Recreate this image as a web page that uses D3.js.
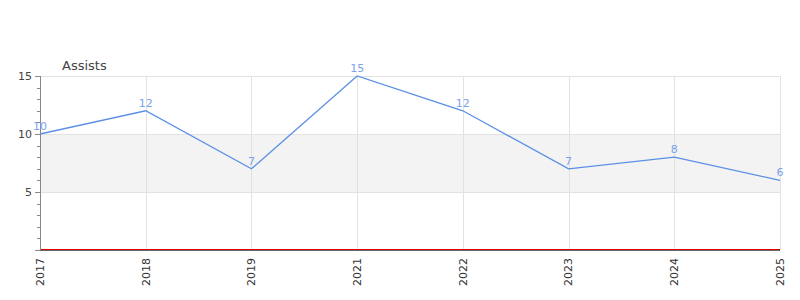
<!DOCTYPE html>
<html>
<head>
<meta charset="utf-8">
<script src="https://cdn.jsdelivr.net/npm/d3@7"></script>
<style>
  body { margin: 0; background: #fff; }
  svg { display: block; font-family: "DejaVu Sans", sans-serif; }
</style>
</head>
<body>
<svg width="800" height="300"></svg>
<script>
const years = ['2017', '2018', '2019', '2021', '2022', '2023', '2024', '2025'];
const assists = [10, 12, 7, 15, 12, 7, 8, 6];
const yTicks = [5, 10, 15];
const band = [5, 10];

const margin = {top: 76, right: 20, bottom: 50, left: 40};
const width = 800 - margin.left - margin.right;
const height = 300 - margin.top - margin.bottom;

const svg = d3.select('svg');
const g = svg.append('g')
    .attr('transform', `translate(${margin.left},${margin.top})`);

const x = d3.scalePoint().domain(years).range([0, width]);
const y = d3.scaleLinear().domain([0, 15]).range([height, 0]);

// shaded band
g.append('rect')
    .attr('x', 0)
    .attr('y', y(band[1]))
    .attr('width', width)
    .attr('height', y(band[0]) - y(band[1]))
    .style('fill', '#f3f3f3');

// grid
g.selectAll('.vgrid')
    .data(years)
    .enter().append('line')
    .attr('class', 'vgrid')
    .attr('x1', d => Math.round(x(d)) + 0.5)
    .attr('x2', d => Math.round(x(d)) + 0.5)
    .attr('y1', 0)
    .attr('y2', height)
    .style('stroke', '#e2e2e2');

g.selectAll('.hgrid')
    .data(yTicks)
    .enter().append('line')
    .attr('class', 'hgrid')
    .attr('x1', 0)
    .attr('x2', width)
    .attr('y1', d => Math.round(y(d)) + 0.5)
    .attr('y2', d => Math.round(y(d)) + 0.5)
    .style('stroke', '#e2e2e2');

// y axis with minor ticks
const minor = d3.range(0, 16);
g.selectAll('.minor')
    .data(minor)
    .enter().append('line')
    .attr('class', 'minor')
    .attr('x1', d => (d % 5 === 0 ? -5 : -3))
    .attr('x2', 0)
    .attr('y1', d => Math.round(y(d)) + 0.5)
    .attr('y2', d => Math.round(y(d)) + 0.5)
    .style('stroke', '#888');

g.append('line')
    .attr('x1', 0.5).attr('x2', 0.5)
    .attr('y1', 0).attr('y2', height)
    .style('stroke', '#888');

g.selectAll('.ylab')
    .data(yTicks)
    .enter().append('text')
    .attr('class', 'ylab')
    .attr('x', -8)
    .attr('y', d => y(d))
    .attr('dy', '0.35em')
    .style('text-anchor', 'end')
    .style('font-size', '11px')
    .style('fill', '#444')
    .text(d => d);

// baseline
g.append('line')
    .attr('x1', 0).attr('x2', width)
    .attr('y1', y(0) + 0.5).attr('y2', y(0) + 0.5)
    .style('stroke', '#666');
g.append('line')
    .attr('x1', 1).attr('x2', width)
    .attr('y1', y(0) - 0.5).attr('y2', y(0) - 0.5)
    .style('stroke', '#e00000');

// x labels
g.selectAll('.xlab')
    .data(years)
    .enter().append('text')
    .attr('class', 'xlab')
    .attr('transform', d => `translate(${x(d)},${height + 8}) rotate(-90)`)
    .attr('dy', '0.35em')
    .style('text-anchor', 'end')
    .style('font-size', '11px')
    .style('fill', '#333')
    .text(d => d);

// line
const line = d3.line()
    .x((d, i) => x(years[i]))
    .y(d => y(d));

g.append('path')
    .datum(assists)
    .attr('d', line)
    .style('fill', 'none')
    .style('stroke', '#5b8fe6')
    .style('stroke-width', 1.3);

g.selectAll('.vlab')
    .data(assists)
    .enter().append('text')
    .attr('class', 'vlab')
    .attr('x', (d, i) => x(years[i]))
    .attr('y', d => y(d) - 4)
    .style('text-anchor', 'middle')
    .style('font-size', '11px')
    .style('fill', '#7ba2ea')
    .text(d => d);

// series title
svg.append('text')
    .attr('x', 62)
    .attr('y', 70)
    .style('font-size', '13px')
    .style('fill', '#444')
    .text('Assists');
</script>
</body>
</html>
